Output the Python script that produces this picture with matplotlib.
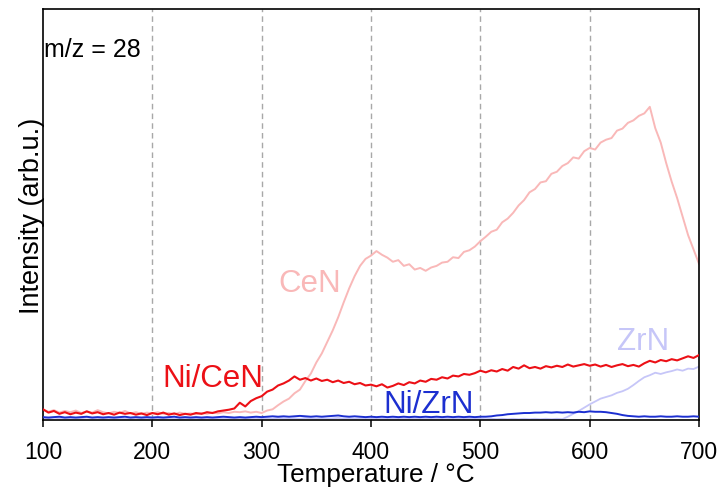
import matplotlib
matplotlib.use("Agg")
import matplotlib.pyplot as plt
import numpy as np

plt.rcParams['font.family'] = ['Liberation Sans', 'DejaVu Sans']

temperature = list(range(100, 705, 5))

cen = [2.6, 2.0, 2.4, 1.8, 2.2, 1.9, 2.3, 1.7, 2.1, 1.8,
       2.4, 1.9, 1.6, 2.0, 1.7, 2.2, 1.6, 1.9, 1.5, 1.8,
       1.6, 1.9, 1.5, 1.7, 1.4, 1.8, 1.5, 1.6, 1.4, 1.7,
       1.5, 1.8, 1.6, 1.9, 1.7, 2.0, 1.9, 2.1, 1.8, 2.0,
       1.7, 2.3, 2.6, 3.6, 4.5, 5.2, 6.5, 7.4, 9.5, 11.3,
       14.0, 16.2, 19.0, 21.8, 25.0, 28.6, 32.0, 35.0, 37.5, 39.2,
       40.0, 41.1, 40.2, 39.5, 38.5, 38.9, 37.5, 37.9, 36.6, 37.0,
       36.3, 37.1, 37.5, 38.3, 38.5, 39.6, 39.4, 40.9, 41.3, 42.2,
       43.5, 44.6, 45.8, 46.3, 48.1, 49.0, 50.4, 52.2, 53.5, 55.4,
       56.2, 57.8, 58.1, 59.9, 60.4, 61.8, 62.5, 63.9, 63.6, 65.4,
       66.2, 65.8, 67.5, 68.2, 68.6, 70.4, 70.9, 72.3, 72.9, 74.0,
       74.6, 76.2, 71.0, 67.5, 62.5, 58.0, 54.0, 49.5, 45.0, 41.5,
       38.0]

ni_cen = [2.6, 1.8, 2.2, 1.5, 1.9, 1.4, 1.8, 1.5, 2.1, 1.6,
          1.9, 1.4, 1.7, 1.3, 1.8, 1.5, 1.7, 1.3, 1.6, 1.2,
          1.7, 1.4, 1.8, 1.3, 1.6, 1.2, 1.5, 1.3, 1.7, 1.5,
          1.9, 1.7, 2.1, 2.3, 2.5, 2.8, 4.2, 3.3, 4.6, 5.3,
          5.8, 6.9, 7.4, 8.4, 8.9, 9.6, 10.6, 9.8, 10.2, 9.6,
          10.1, 9.5, 9.8, 9.2, 9.6, 9.0, 9.3, 8.7, 9.0, 8.4,
          8.6, 8.2, 8.7, 7.9, 8.3, 8.9, 8.5, 9.2, 8.9, 9.6,
          9.3, 10.0, 9.8, 10.4, 10.1, 10.8, 10.6, 11.2, 11.0, 11.4,
          12.0, 11.6, 12.1, 11.8, 12.4, 12.0, 12.9, 12.5, 13.3, 12.6,
          12.9, 12.5, 13.1, 12.8, 13.2, 12.9, 13.5, 13.0, 13.3, 13.6,
          13.2, 13.5, 13.0, 13.4, 12.9, 13.3, 13.6, 13.1, 13.4, 13.0,
          13.8, 14.4, 14.0, 14.6, 14.3, 14.8, 14.5, 15.0, 15.5, 15.1,
          15.8]

zrn = [0.5, 0.4, 0.6, 0.4, 0.5, 0.3, 0.5, 0.4, 0.6, 0.4,
       0.5, 0.3, 0.5, 0.4, 0.5, 0.3, 0.4, 0.5, 0.3, 0.4,
       0.5, 0.3, 0.4, 0.5, 0.3, 0.4, 0.3, 0.5, 0.4, 0.3,
       0.4, 0.5, 0.3, 0.4, 0.3, 0.5, 0.4, 0.3, 0.4, 0.5,
       0.3, 0.4, 0.3, 0.5, 0.4, 0.3, 0.4, 0.3, 0.5, 0.4,
       0.3, 0.4, 0.3, 0.4, 0.5, 0.3, 0.4, 0.3, 0.4, 0.3,
       0.4, 0.3, 0.4, 0.3, 0.4, 0.3, 0.4, 0.3, 0.4, 0.3,
       0.4, 0.3, 0.4, 0.3, 0.4, 0.3, 0.4, 0.3, 0.4, 0.3,
       0.3, 0.2, 0.3, 0.2, 0.3, 0.2, 0.3, 0.2, 0.3, 0.2,
       0.3, 0.2, 0.3, 0.2, 0.3, 0.2, 0.8, 1.5, 2.2, 3.0,
       3.8, 4.5, 5.2, 5.6, 6.0, 6.6, 7.0, 7.6, 8.5, 9.5,
       10.4, 10.9, 11.5, 11.2, 11.6, 11.9, 12.3, 12.0, 12.5, 12.4,
       13.0]

ni_zrn = [0.7, 0.6, 0.7, 0.8, 0.6, 0.7, 0.6, 0.7, 0.8, 0.6,
          0.7, 0.6, 0.7, 0.6, 0.7, 0.8, 0.6, 0.7, 0.6, 0.7,
          0.6, 0.7, 0.6, 0.7, 0.8, 0.6, 0.7, 0.6, 0.7, 0.6,
          0.7, 0.6, 0.7, 0.8, 0.7, 0.6, 0.7, 0.6, 0.7, 0.8,
          0.7, 0.8, 0.9, 0.8, 0.9, 0.8, 0.9, 1.0, 0.9, 0.8,
          0.9, 0.8, 0.9, 1.0, 1.1, 0.9, 0.8, 0.9, 0.8, 0.7,
          0.8, 0.7, 0.8, 0.7, 0.8, 0.7, 0.8, 0.7, 0.8, 0.7,
          0.8, 0.7, 0.8, 0.7, 0.8, 0.7, 0.8, 0.7, 0.8, 0.7,
          0.8, 0.8, 0.9, 1.1, 1.2, 1.4, 1.5, 1.6, 1.7, 1.7,
          1.8, 1.8, 1.9, 1.8, 1.9, 1.8, 1.9, 1.8, 2.0, 1.9,
          2.1, 2.0, 2.0, 1.9, 1.7, 1.5, 1.2, 1.0, 0.9, 0.8,
          0.9, 0.8, 0.8, 0.9, 0.8, 0.8, 0.9, 0.8, 0.8, 0.9,
          0.8]

fig = plt.figure(figsize=(7.22, 4.89), dpi=100)
ax = fig.add_axes([43/722, 68/489, 656/722, 411/489])

ax.plot(temperature, zrn, color='#c6c6f8', lw=1.3, zorder=2)
ax.plot(temperature, cen, color='#f9b8b8', lw=1.4, zorder=2)
ax.plot(temperature, ni_zrn, color='#1c2fd0', lw=1.4, zorder=3)
ax.plot(temperature, ni_cen, color='#ec1016', lw=1.5, zorder=3)

ax.set_xlim(100, 700)
ax.set_ylim(0, 100)
ax.set_xticks([100, 200, 300, 400, 500, 600, 700])
ax.set_yticks([])
for xv in [200, 300, 400, 500, 600]:
    ax.axvline(xv, color='#a8a8a8', lw=1.0, ls=(0, (4, 3)), zorder=1)

ax.tick_params(axis='x', direction='out', length=5, width=1.1, labelsize=16.5, pad=9.5)
for s in ax.spines.values():
    s.set_linewidth(1.2)

ax.set_xlabel('Temperature / °C', fontsize=18.8)
ax.xaxis.set_label_coords(0.507, -0.102)
ax.set_ylabel('Intensity (arb.u.)', fontsize=19.5)
ax.yaxis.set_label_coords(0.003, 0.5)

ax.text(0.002, 0.886, 'm/z = 28', transform=ax.transAxes, fontsize=18, ha='left', va='baseline')
ax.text(315, 31.5, 'CeN', color='#f9b8b8', fontsize=22.5, ha='left', va='baseline')
ax.text(208.8, 8.35, 'Ni/CeN', color='#ec1016', fontsize=22.5, ha='left', va='baseline')
ax.text(411, 1.95, 'Ni/ZrN', color='#1c2fd0', fontsize=22.5, ha='left', va='baseline')
ax.text(625, 17.3, 'ZrN', color='#c6c6f8', fontsize=22.5, ha='left', va='baseline')

fig.savefig('out.png', dpi=100)
